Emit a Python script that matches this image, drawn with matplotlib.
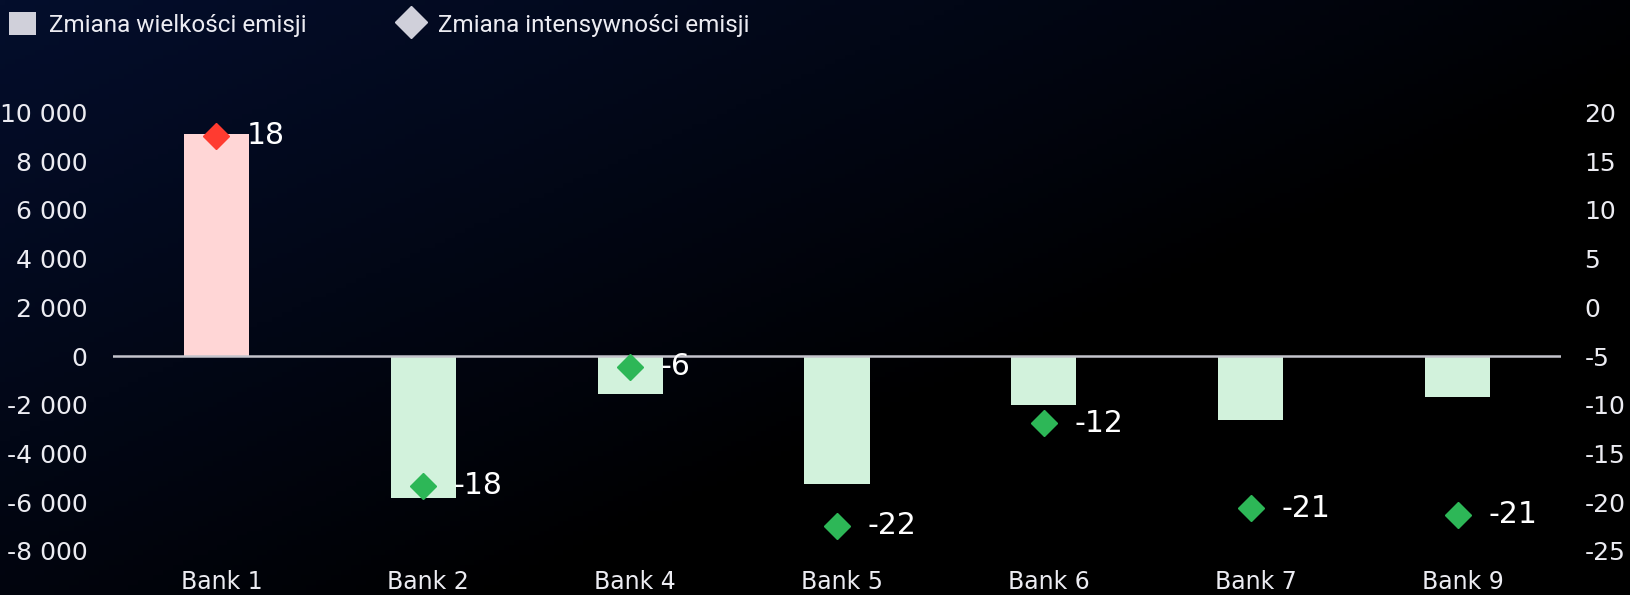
import numpy as np
import matplotlib
matplotlib.use('Agg')
import matplotlib.pyplot as plt
from matplotlib.patches import Patch
from matplotlib.lines import Line2D
from matplotlib.transforms import ScaledTranslation

plt.rcParams['axes.unicode_minus'] = False

# data
banks = ['Bank 1', 'Bank 2', 'Bank 4', 'Bank 5', 'Bank 6', 'Bank 7', 'Bank 9']
volume_change = [9100, -5830, -1560, -5240, -2000, -2640, -1670]
intensity_change = [17.6, -18.3, -6.1, -22.4, -11.9, -20.6, -21.3]
left_ticks = [-8000, -6000, -4000, -2000, 0, 2000, 4000, 6000, 8000, 10000]
right_ticks = [-25, -20, -15, -10, -5, 0, 5, 10, 15, 20]
legend_labels = ['Zmiana wielkości emisji', 'Zmiana intensywności emisji']

txt = '#ececf2'
pink, mint = '#ffd6d6', '#d2f2dc'
red, green = '#ff3b30', '#2db757'

fig = plt.figure(figsize=(16.31, 5.95), dpi=100)

# background gradient (navy top-left -> black)
H, W = 120, 330
yy, xx = np.mgrid[0:H, 0:W]
u = xx / W + 0.8 * yy / H
k = np.clip(1 - u / 1.1, 0, 1) ** 0.9
navy = np.array([4, 14, 44]) / 255
bg = k[..., None] * navy
bgax = fig.add_axes([0, 0, 1, 1], zorder=-10)
bgax.imshow(bg, aspect='auto', extent=[0, 1, 0, 1])
bgax.axis('off')

ax = fig.add_axes([113 / 1631, 1 - 551 / 595, 1448 / 1631, 438.5 / 595])
ax.patch.set_alpha(0)
x = np.arange(len(banks))
colors = [pink if v > 0 else mint for v in volume_change]
ax.bar(x, volume_change, width=0.315, color=colors, zorder=2)
ax.axhline(0, color='#c4c4cc', lw=1.8, zorder=3)
ax.set_xlim(-0.5, len(banks) - 0.5)
ax.set_ylim(-8000, 10000)
ax.set_yticks(left_ticks)
ax.set_yticklabels([f'{t:,}'.replace(',', ' ') for t in left_ticks])
ax.set_xticks(x)
ax.set_xticklabels(banks)
ax.tick_params(axis='y', length=0, pad=18.5, labelsize=18, labelcolor=txt)
ax.tick_params(axis='x', length=0, pad=14, labelsize=17, labelcolor=txt)
shift = ScaledTranslation(5 / 100, 0, fig.dpi_scale_trans)
for lbl in ax.get_xticklabels():
    lbl.set_transform(lbl.get_transform() + shift)
for s in ax.spines.values():
    s.set_visible(False)

ax2 = ax.twinx()
ax2.set_ylim(-25, 20)
ax2.set_yticks(right_ticks)
ax2.tick_params(axis='y', length=0, pad=17, labelsize=18, labelcolor=txt)
for s in ax2.spines.values():
    s.set_visible(False)
mcol = [red if v > 0 else green for v in intensity_change]
for xi, v, c in zip(x, intensity_change, mcol):
    ax2.plot(xi, v, marker='D', ms=13, color=c, ls='none', zorder=4)
    ax2.annotate(f'{v:.0f}', (xi, v), xytext=(22, 0), textcoords='offset points',
                 va='center', ha='left', fontsize=21.5, color='white')

handles = [Patch(facecolor='#d0d0da', edgecolor='none'),
           Line2D([], [], marker='D', color='#d0d0da', ls='none', ms=16)]
leg = fig.legend(handles, legend_labels, loc='upper left', bbox_to_anchor=(-0.008, 1.017),
                 ncol=2, frameon=False, labelcolor=txt,
                 handlelength=1.1, handleheight=1.1, handletextpad=0.55, columnspacing=3.75,
                 prop={'family': ['Roboto', 'DejaVu Sans'], 'size': 17.5})

fig.savefig('out.png', dpi=100)
